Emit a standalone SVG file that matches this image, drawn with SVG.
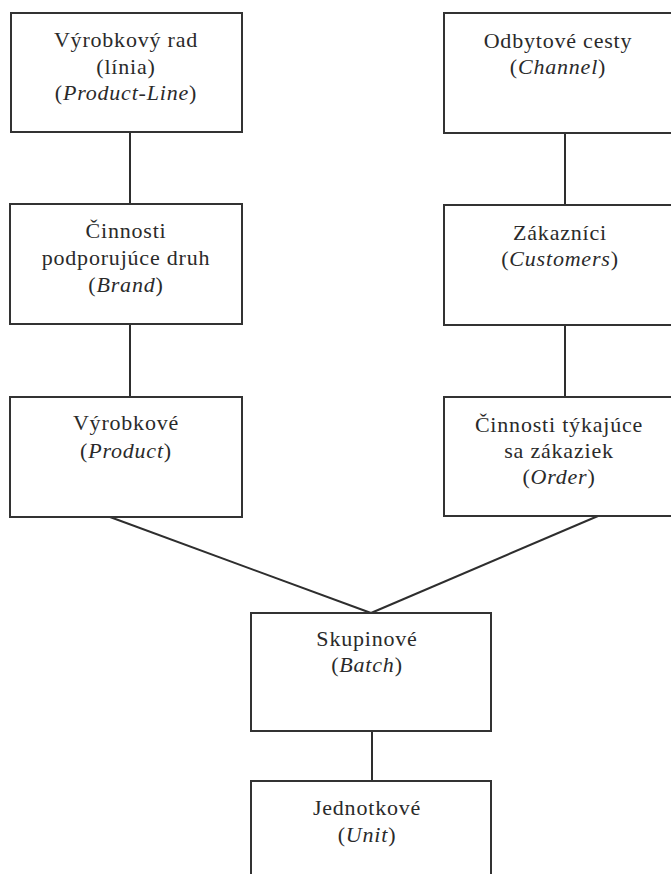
<svg xmlns="http://www.w3.org/2000/svg" width="671" height="874" viewBox="0 0 671 874">
<style>
rect.box{fill:#fff;stroke:#333;stroke-width:2}
line{stroke:#2e2e2e;stroke-width:2;fill:none}
text{font-family:'Liberation Serif','Times New Roman','DejaVu Serif',serif;font-size:22px;fill:#2a2a2a;text-anchor:middle;letter-spacing:0.8px}
.i{font-style:italic}
</style>
<rect width="671" height="874" fill="#fff"/>
<g id="connectors">
<line x1="130" y1="132" x2="130" y2="204"/>
<line x1="130" y1="324" x2="130" y2="397"/>
<line x1="565" y1="133" x2="565" y2="205"/>
<line x1="565" y1="325" x2="565" y2="397"/>
<line x1="110" y1="517" x2="371" y2="613"/>
<line x1="598" y1="516" x2="371" y2="613"/>
<line x1="372" y1="731" x2="372" y2="781"/>
</g>
<g id="product-line">
<rect class="box" x="11" y="13" width="231" height="119"/>
<text x="126" y="47" font-family="Liberation Serif, serif">Výrobkový rad</text>
<text x="126" y="74" font-family="Liberation Serif, serif">(línia)</text>
<text x="126" y="100" font-family="Liberation Serif, serif">(<tspan class="i">Product-Line</tspan>)</text>
</g>
<g id="channel">
<rect class="box" x="444" y="13" width="250" height="120"/>
<text x="558" y="48">Odbytové cesty</text>
<text x="558" y="74">(<tspan class="i">Channel</tspan>)</text>
</g>
<g id="brand">
<rect class="box" x="10" y="204" width="232" height="120"/>
<text x="126" y="238">Činnosti</text>
<text x="126" y="265">podporujúce druh</text>
<text x="126" y="292">(<tspan class="i">Brand</tspan>)</text>
</g>
<g id="customers">
<rect class="box" x="444" y="205" width="250" height="120"/>
<text x="560" y="240">Zákazníci</text>
<text x="560" y="266">(<tspan class="i">Customers</tspan>)</text>
</g>
<g id="product">
<rect class="box" x="10" y="397" width="232" height="120"/>
<text x="126" y="430">Výrobkové</text>
<text x="126" y="458">(<tspan class="i">Product</tspan>)</text>
</g>
<g id="order">
<rect class="box" x="444" y="397" width="250" height="119"/>
<text x="559" y="432">Činnosti týkajúce</text>
<text x="559" y="458">sa zákaziek</text>
<text x="559" y="484">(<tspan class="i">Order</tspan>)</text>
</g>
<g id="batch">
<rect class="box" x="251" y="613" width="240" height="118"/>
<text x="367" y="646">Skupinové</text>
<text x="367" y="672">(<tspan class="i">Batch</tspan>)</text>
</g>
<g id="unit">
<rect class="box" x="251" y="781" width="240" height="110"/>
<text x="367" y="815">Jednotkové</text>
<text x="367" y="842">(<tspan class="i">Unit</tspan>)</text>
</g>
</svg>
